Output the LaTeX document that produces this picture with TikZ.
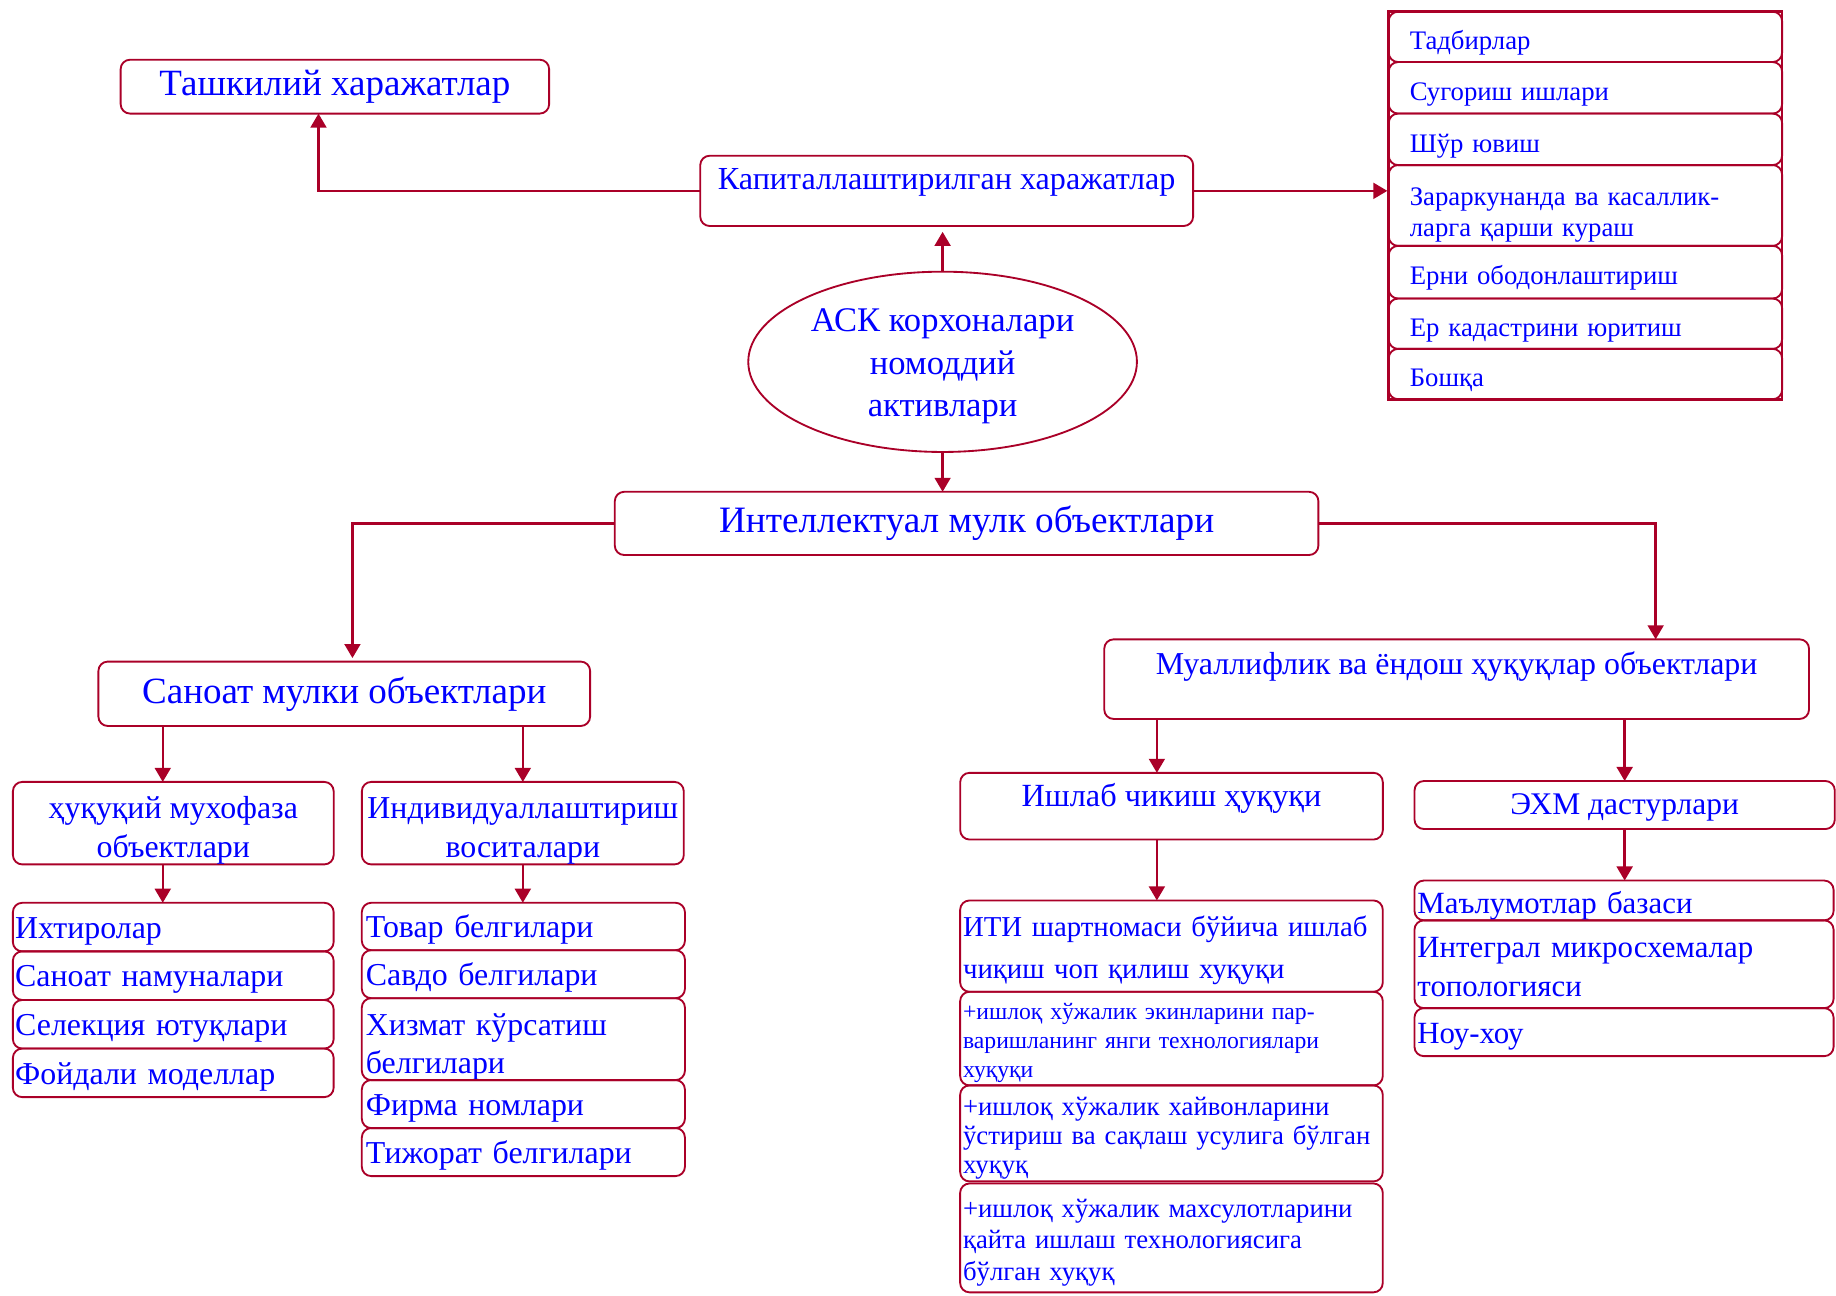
\documentclass[tikz,border=0pt]{standalone}
\usepackage{fontspec}
\setmainfont{Liberation Serif}
\usetikzlibrary{positioning,shapes.geometric,arrows.meta,fit}

\definecolor{boxred}{RGB}{170,0,40}
\definecolor{txtblue}{RGB}{0,0,255}

\tikzset{
  box/.style={draw=boxred, line width=0.9pt, rounded corners=0.16cm, text=txtblue, inner sep=0pt, outer sep=0pt},
  item/.style={box, anchor=north west, align=left},
  arr/.style={draw=boxred, line width=1.2pt, -{Triangle[width=0.27cm,length=0.24cm]}},
}

\begin{document}
\begin{tikzpicture}[x=0.02cm, y=-0.02cm]
\clip (0,0) rectangle (1568,1106);
\fill[white] (0,0) rectangle (1568,1106);

%% top row
\node[box, minimum width=7.32cm, minimum height=0.92cm, font=\fontsize{18}{21}\selectfont] (tash) at (286,74) {Ташкилий харажатлар};
\node[box, minimum width=8.42cm, minimum height=1.2cm, text height=11pt, text depth=12pt, font=\fontsize{15.6}{19}\selectfont] (kap) at (808.5,163) {Капиталлаштирилган харажатлар};

%% list of capital costs
\tikzset{rlist/.style={item, text width=6.0cm, inner xsep=0.36cm, text height=15.4pt, text depth=3pt, font=\fontsize{13}{15.4}\selectfont}}
\node[rlist, minimum height=0.86cm] (tad) at (1186,10) {Тадбирлар};
\node[rlist, minimum height=0.88cm, below=0pt of tad] (sug) {Сугориш ишлари};
\node[rlist, minimum height=0.88cm, below=0pt of sug] (shur) {Шўр ювиш};
\node[item, text width=6.0cm, inner xsep=0.36cm, font=\fontsize{13}{15.4}\selectfont, minimum height=1.38cm, below=0pt of shur] (zar) {\rule{0pt}{18pt}Зараркунанда ва касаллик-\\ларга қарши кураш};
\node[rlist, minimum height=0.9cm, below=0pt of zar] (obod) {Ерни ободонлаштириш};
\node[rlist, minimum height=0.86cm, below=0pt of obod] (kad) {Ер кадастрини юритиш};
\node[rlist, minimum height=0.86cm, below=0pt of kad] (bosh) {Бошқа};
\node[draw=boxred, line width=1.3pt, fit=(tad)(bosh), inner sep=0pt] (frame) {};

%% centre
\node[ellipse, draw=boxred, line width=0.9pt, minimum width=6.64cm, minimum height=3.08cm, inner sep=0pt, align=center, text=txtblue, font=\fontsize{16.8}{20.5}\selectfont] (ask) at (805,309) {\rule{0pt}{15.5pt}АСК корхоналари\\номоддий\\активлари};
\node[box, minimum width=12.02cm, minimum height=1.08cm, font=\fontsize{18.1}{21}\selectfont] (int) at (825.5,447) {Интеллектуал мулк объектлари};

%% industrial property
\node[box, minimum width=8.4cm, minimum height=1.1cm, font=\fontsize{18}{21}\selectfont] (san) at (294,592.5) {Саноат мулки объектлари};
\node[box, minimum width=5.48cm, minimum height=1.36cm, align=center, font=\fontsize{15.5}{18.8}\selectfont] (huq) at (148,703) {\rule{0pt}{18pt}ҳуқуқий мухофаза\\объектлари};
\node[box, minimum width=5.5cm, minimum height=1.36cm, align=center, font=\fontsize{15.5}{18.8}\selectfont] (ind) at (446.5,703) {\rule{0pt}{18pt}Индивидуаллаштириш\\воситалари};

\tikzset{llist/.style={item, text width=5.4cm, inner xsep=0.04cm, minimum height=0.83cm, text height=14.3pt, text depth=3.4pt, font=\fontsize{15.5}{18.5}\selectfont}}
\node[llist] (ihti) at (11,771) {Ихтиролар};
\node[llist, below=0pt of ihti] (namu) {Саноат намуналари};
\node[llist, below=0pt of namu] (sel) {Селекция ютуқлари};
\node[llist, below=0pt of sel] (foy) {Фойдали моделлар};

\tikzset{mlist/.style={item, text width=5.38cm, inner xsep=0.07cm, minimum height=0.82cm, font=\fontsize{15.5}{18.5}\selectfont},
         mone/.style={mlist, text height=14.3pt, text depth=3.4pt}}
\node[mone, minimum height=0.81cm] (tov) at (309,771) {Товар белгилари};
\node[mone, below=0pt of tov] (sav) {Савдо белгилари};
\node[mlist, minimum height=1.34cm, below=0pt of sav] (xiz) {\rule{0pt}{18pt}Хизмат кўрсатиш\\белгилари};
\node[mone, below=0pt of xiz] (fir) {Фирма номлари};
\node[mone, below=0pt of fir] (tij) {Тижорат белгилари};

%% copyright
\node[box, minimum width=12.04cm, minimum height=1.36cm, text height=11pt, text depth=16pt, font=\fontsize{15.5}{18.5}\selectfont] (ham) at (1244,580) {Муаллифлик ва ёндош ҳуқуқлар объектлари};
\node[box, minimum width=7.22cm, minimum height=1.14cm, text height=11pt, text depth=11pt, font=\fontsize{15.7}{18.5}\selectfont] (ish) at (1000.5,688.5) {Ишлаб чикиш ҳуқуқи};
\node[box, minimum width=7.18cm, minimum height=0.82cm, text height=12pt, text depth=3pt, font=\fontsize{15.3}{18}\selectfont] (ehm) at (1387.5,687.5) {ЭХМ дастурлари};

\tikzset{plist/.style={item, text width=7.12cm, inner xsep=0.05cm}}
\node[plist, minimum height=1.56cm, font=\fontsize{14}{20.5}\selectfont] (iti) at (820,769) {\rule{0pt}{14pt}ИТИ шартномаси бўйича ишлаб\\чиқиш чоп қилиш хуқуқи};
\node[plist, minimum height=1.6cm, font=\fontsize{11.5}{14.2}\selectfont, below=0pt of iti] (ekin) {\rule{0pt}{12pt}+ишлоқ хўжалик экинларини пар-\\варишланинг янги технологиялари\\хуқуқи};
\node[plist, minimum height=1.64cm, font=\fontsize{13}{14.2}\selectfont, below=0pt of ekin] (hay) {\rule{0pt}{13.5pt}+ишлоқ хўжалик хайвонларини\\ўстириш ва сақлаш усулига бўлган\\хуқуқ};
\node[plist, minimum height=1.86cm, font=\fontsize{13}{15.4}\selectfont, below=1pt of hay] (mah) {\rule{0pt}{13.5pt}+ишлоқ хўжалик махсулотларини\\қайта ишлаш технологиясига\\бўлган хуқуқ};

\tikzset{elist/.style={item, text width=7.06cm, inner xsep=0.05cm, font=\fontsize{15}{18.8}\selectfont}}
\node[elist, minimum height=0.68cm, text height=15pt, text depth=2pt] (mal) at (1208,752) {Маълумотлар базаси};
\node[elist, minimum height=1.5cm, below=0pt of mal] (topo) {\rule{0pt}{12.5pt}Интеграл микросхемалар\\топологияси};
\node[elist, minimum height=0.82cm, text height=14pt, text depth=3pt, below=0pt of topo] (nou) {Ноу-хоу};

%% connectors
\draw[arr] (kap.west) -| ([xshift=-0.28cm]tash.south);
\draw[arr] (kap.east) -- (kap.east -| frame.west);
\draw[arr] (ask.north) -- ([yshift=-0.1cm]ask.north |- kap.south);
\draw[arr] (ask.south) -- (ask.south |- int.north);
\draw[arr] (int.west) -| ([xshift=0.14cm,yshift=0.06cm]san.north);
\draw[arr] (int.east) -| ([xshift=3.4cm]ham.north);
\draw[arr] ([xshift=-0.18cm]huq.north |- san.south) -- ([xshift=-0.18cm]huq.north);
\draw[arr] (ind.north |- san.south) -- (ind.north);
\draw[arr] ([xshift=-0.18cm]huq.south) -- ([xshift=-0.18cm]huq.south |- ihti.north);
\draw[arr] (ind.south) -- (ind.south |- tov.north);
\draw[arr] ([xshift=-0.25cm]ish.north |- ham.south) -- ([xshift=-0.25cm]ish.north);
\draw[arr] (ehm.north |- ham.south) -- (ehm.north);
\draw[arr] ([xshift=-0.25cm]ish.south) -- ([xshift=-0.25cm]ish.south |- iti.north);
\draw[arr] (ehm.south) -- (ehm.south |- mal.north);

\end{tikzpicture}
\end{document}
